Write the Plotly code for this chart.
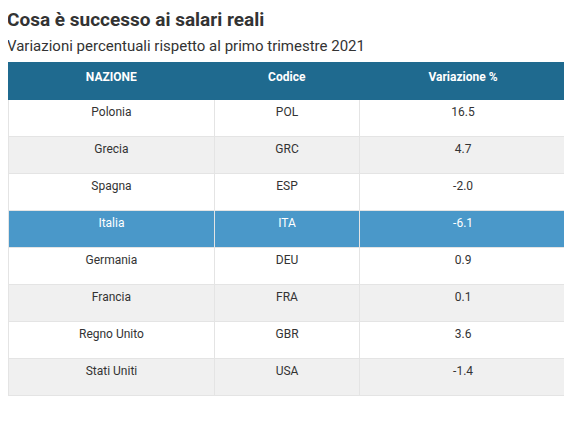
import plotly.graph_objects as go

nazioni = ["Polonia", "Grecia", "Spagna", "Italia", "Germania", "Francia", "Regno Unito", "Stati Uniti"]
codici = ["POL", "GRC", "ESP", "ITA", "DEU", "FRA", "GBR", "USA"]
variazioni = [16.5, 4.7, -2.0, -6.1, 0.9, 0.1, 3.6, -1.4]
headers = ["NAZIONE", "Codice", "Variazione %"]

fills = []
fcolors = []
for i, c in enumerate(codici):
    if c == "ITA":
        fills.append("#4a98c9"); fcolors.append("white")
    else:
        fills.append("white" if i % 2 == 0 else "#f0f0f0"); fcolors.append("#333333")

fig = go.Figure(go.Table(
    columnwidth=[208, 145, 209],
    header=dict(values=[f"<b>{h}</b>" for h in headers], fill_color="#1f6a8f",
                font=dict(color="white", size=12, family="Roboto"),
                line=dict(color="#1f6a8f", width=1), height=37, align="center"),
    cells=dict(values=[nazioni, codici, [f"{v:.1f}" for v in variazioni]],
               fill_color=[fills] * 3, font=dict(color=[fcolors] * 3, size=12, family="Roboto"),
               line=dict(color="#e4e4e4", width=1), height=37, align="center"),
    domain=dict(x=[0, 559/572], y=[0, 1 - 54/429]),
))
fig.update_layout(
    width=572, height=429, margin=dict(l=0, r=0, t=0, b=0),
    paper_bgcolor="white",
    annotations=[
        dict(text="<b>Cosa è successo ai salari reali</b>", x=-3/572, y=1 + 2/429, xref="paper", yref="paper",
             xanchor="left", yanchor="top", showarrow=False, font=dict(size=19, family="Roboto", color="#333")),
        dict(text="Variazioni percentuali rispetto al primo trimestre 2021", x=-3/572, y=1 - 27/429,
             xref="paper", yref="paper", xanchor="left", yanchor="top", showarrow=False,
             font=dict(size=15, family="Roboto", color="#333")),
    ],
)
fig.write_html("out.html")
